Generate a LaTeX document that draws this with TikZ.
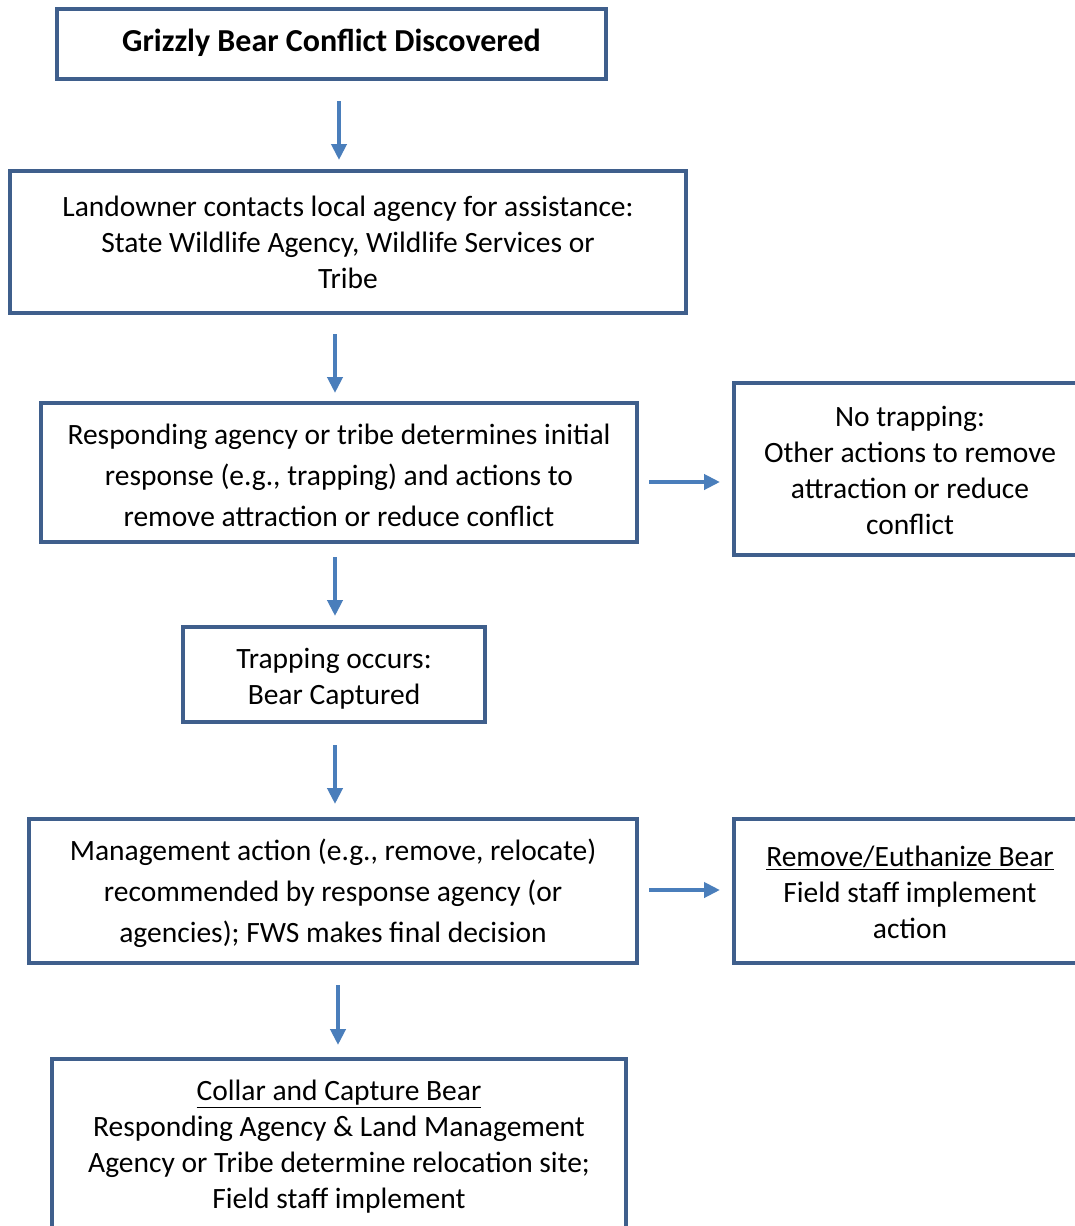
\documentclass[tikz,border=0pt]{standalone}
\usepackage{fontspec}
\setmainfont{Carlito}
\usetikzlibrary{arrows.meta}
\definecolor{boxblue}{HTML}{3F5F8C}
\definecolor{arrblue}{HTML}{4A7EBB}
\begin{document}
\begin{tikzpicture}[x=1pt,y=-1pt,
  box/.style={draw=boxblue,line width=4pt,fill=white,inner sep=0pt},
  txt/.style={inner sep=0pt,align=center,font=\fontsize{29.5}{36}\selectfont},
  widetxt/.style={txt,font=\fontsize{29.5}{41}\selectfont},
  arr/.style={draw=arrblue,line width=4.5pt,-{Triangle[width=15pt,length=16pt]}}]
\useasboundingbox (0,0) rectangle (1075,1226);
\clip (0,0) rectangle (1075,1226);
\fill[white] (0,0) rectangle (1075,1226);
% boxes
\node[box,minimum width=549pt,minimum height=70pt] (b1) at (331.5,44) {};
\node[box,minimum width=676pt,minimum height=142pt] (b2) at (348,242) {};
\node[box,minimum width=596pt,minimum height=139pt] (b3) at (339,472.5) {};
\node[box,minimum width=352pt,minimum height=172pt] (b4) at (910,469) {};
\node[box,minimum width=302pt,minimum height=95pt] (b5) at (334,674.5) {};
\node[box,minimum width=608pt,minimum height=144pt] (b6) at (333,891) {};
\node[box,minimum width=352pt,minimum height=144pt] (b7) at (910,891) {};
\node[box,minimum width=574pt,minimum height=172pt] (b8) at (339,1145) {};
% texts
\node[txt,font=\fontsize{32}{36}\selectfont\bfseries] (t1) at (331.5,43) {Grizzly Bear Conflict Discovered};
\node[txt] (t2) at (348,242.5) {Landowner contacts local agency for assistance:\\State Wildlife Agency, Wildlife Services or\\Tribe};
\node[widetxt] (t3) at (339,475) {Responding agency or tribe determines initial\\response (e.g., trapping) and actions to\\remove attraction or reduce conflict};
\node[txt] (t4) at (910,470) {No trapping:\\Other actions to remove\\attraction or reduce\\conflict};
\node[txt] (t5) at (334,678.5) {Trapping occurs:\\Bear Captured};
\node[widetxt] (t6) at (333,893) {Management action (e.g., remove, relocate)\\recommended by response agency (or\\agencies); FWS makes final decision};
\node[txt] (t7) at (910,892) {\underline{Remove/Euthanize Bear}\\Field staff implement\\action};
\node[txt] (t8) at (339,1147) {\underline{Collar and Capture Bear}\\Responding Agency \& Land Management\\Agency or Tribe determine relocation site;\\Field staff implement};
% arrow guides
\coordinate (g1) at (339,0);
\coordinate (g2) at (335,0);
\coordinate (g3) at (0,482);
\coordinate (g6) at (0,890);
\coordinate (g8) at (338,0);
% arrows
\draw[arr] ([yshift=-20pt]b1.south -| g1) -- ([yshift=9pt]b2.north -| g1);
\draw[arr] ([yshift=-19pt]b2.south -| g2) -- ([yshift=8pt]b3.north -| g2);
\draw[arr] ([xshift=10pt]b3.east |- g3) -- ([xshift=-12pt]b4.west |- g3);
\draw[arr] ([yshift=-13pt]b3.south -| g2) -- ([yshift=9pt]b5.north -| g2);
\draw[arr] ([yshift=-21pt]b5.south -| g2) -- ([yshift=13pt]b6.north -| g2);
\draw[arr] ([xshift=10pt]b6.east |- g6) -- ([xshift=-12pt]b7.west |- g6);
\draw[arr] ([yshift=-20pt]b6.south -| g8) -- ([yshift=12pt]b8.north -| g8);
\end{tikzpicture}
\end{document}
